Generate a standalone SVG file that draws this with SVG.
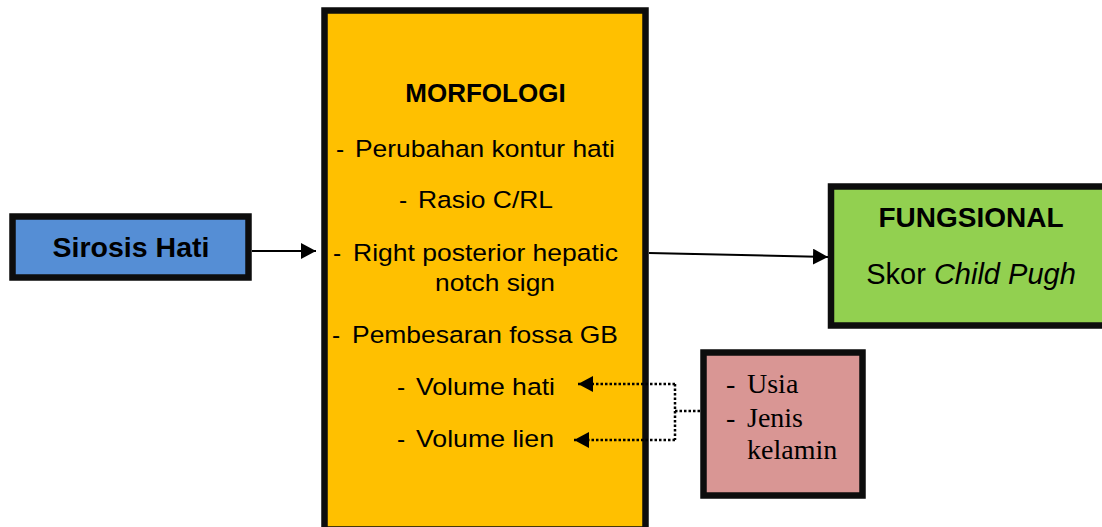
<svg xmlns="http://www.w3.org/2000/svg" width="1102" height="527" viewBox="0 0 1102 527">
<style>
.box{stroke:#0d0d0d;stroke-width:6.5}
.sans{font-family:"Liberation Sans",Arial,sans-serif;fill:#000}
.serif{font-family:"Liberation Serif","Times New Roman",serif;fill:#000;font-size:28px}
.b{font-weight:bold}
.t{font-size:24.5px}
.conn{stroke:#000;fill:none;stroke-width:2}
.dot{stroke:#000;fill:none;stroke-width:2.5;stroke-dasharray:2.5 2}
</style>
<defs>
<marker id="ah" markerUnits="userSpaceOnUse" markerWidth="16" markerHeight="16" refX="15" refY="8" orient="auto">
<path d="M0,0 L15,8 L0,16 Z" fill="#000"/>
</marker>
</defs>
<rect width="1102" height="527" fill="#fff"/>
<g id="sirosis">
<rect class="box" x="12.5" y="216.5" width="236" height="61" fill="#558ED5"/>
<text class="sans b" x="131" y="257" font-size="28.5" text-anchor="middle">Sirosis Hati</text>
</g>
<g id="morfologi">
<rect class="box" x="324.5" y="10.5" width="321" height="519" fill="#FFC000"/>
<text class="sans b" x="485.5" y="102" font-size="26" text-anchor="middle">MORFOLOGI</text>
<g class="sans t">
<text x="336" y="157">-</text>
<text x="355" y="157" textLength="260" lengthAdjust="spacingAndGlyphs">Perubahan kontur hati</text>
<text x="399" y="208">-</text>
<text x="418" y="208" textLength="135" lengthAdjust="spacingAndGlyphs">Rasio C/RL</text>
<text x="333" y="261">-</text>
<text x="353" y="261" textLength="265" lengthAdjust="spacingAndGlyphs">Right posterior hepatic</text>
<text x="435" y="291" textLength="120" lengthAdjust="spacingAndGlyphs">notch sign</text>
<text x="332" y="343">-</text>
<text x="352" y="343" textLength="266" lengthAdjust="spacingAndGlyphs">Pembesaran fossa GB</text>
<text x="397" y="395">-</text>
<text x="416" y="395" textLength="139" lengthAdjust="spacingAndGlyphs">Volume hati</text>
<text x="397" y="447">-</text>
<text x="416" y="447" textLength="138" lengthAdjust="spacingAndGlyphs">Volume lien</text>
</g>
</g>
<g id="fungsional">
<rect class="box" x="831" y="186.5" width="290" height="139" fill="#92D050"/>
<text class="sans b" x="971" y="227" font-size="28" text-anchor="middle">FUNGSIONAL</text>
<text class="sans" x="971" y="284" font-size="29" text-anchor="middle">Skor <tspan font-style="italic">Child Pugh</tspan></text>
</g>
<g id="faktor">
<rect class="box" x="703.5" y="352.5" width="159" height="143" fill="#D99694"/>
<text class="serif" x="726" y="393">-</text>
<text class="serif" x="747" y="393">Usia</text>
<text class="serif" x="726" y="427">-</text>
<text class="serif" x="747" y="427">Jenis</text>
<text class="serif" x="747" y="459">kelamin</text>
</g>
<g id="connectors">
<line class="conn" x1="252" y1="251" x2="316" y2="251" marker-end="url(#ah)"/>
<line class="conn" x1="649" y1="253" x2="828" y2="257" marker-end="url(#ah)"/>
<polyline class="dot" points="700,411 675,411"/>
<polyline class="dot" points="675,384 675,440"/>
<line class="dot" x1="675" y1="384" x2="578" y2="384" marker-end="url(#ah)"/>
<line class="dot" x1="675" y1="440" x2="574" y2="440" marker-end="url(#ah)"/>
</g>
</svg>
